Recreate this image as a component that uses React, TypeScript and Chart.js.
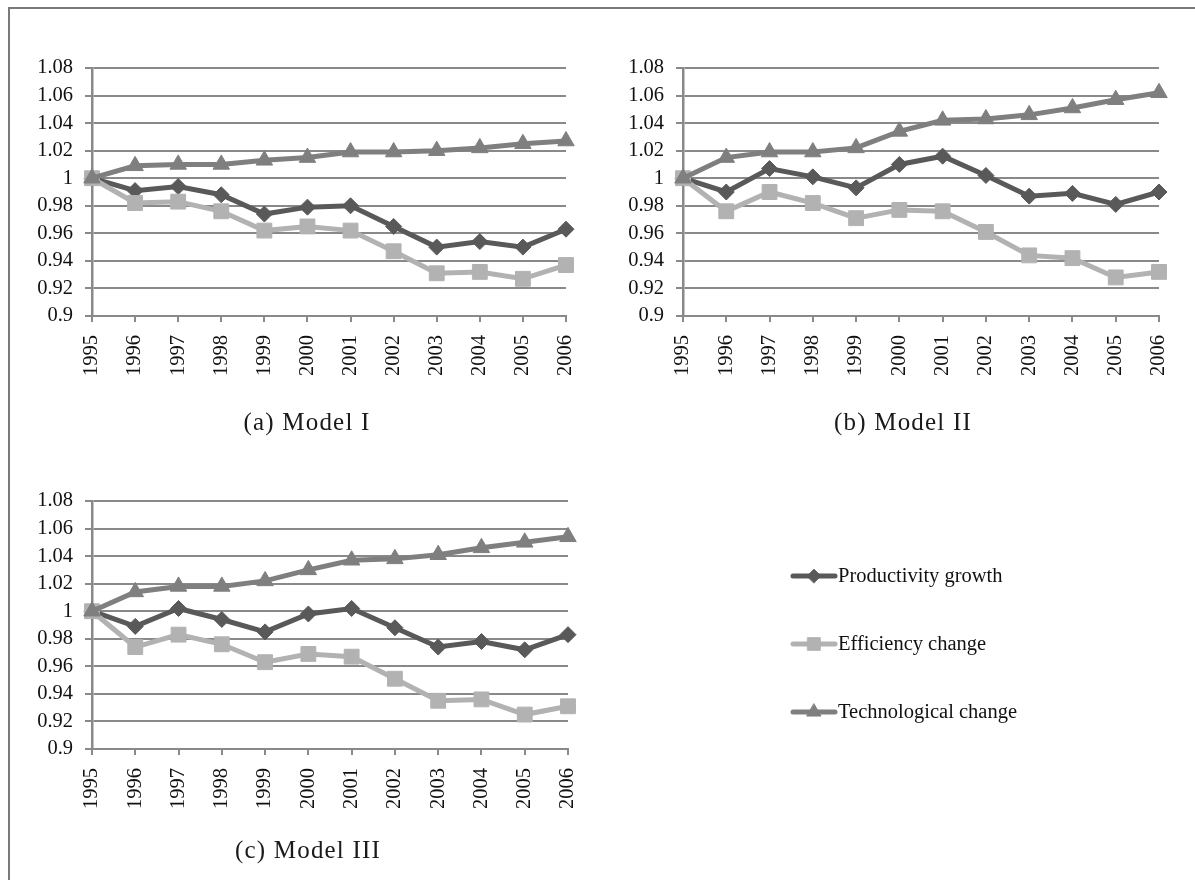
import React, { useEffect, useRef } from 'react';
import { Chart, registerables } from 'chart.js';
import { drawPoint } from 'chart.js/helpers';

Chart.register(...registerables);

// ---------- data ----------
const years = ['1995', '1996', '1997', '1998', '1999', '2000', '2001', '2002', '2003', '2004', '2005', '2006'];
const yTickValues = [0.9, 0.92, 0.94, 0.96, 0.98, 1.0, 1.02, 1.04, 1.06, 1.08];
const yTickLabels = ['0.9', '0.92', '0.94', '0.96', '0.98', '1', '1.02', '1.04', '1.06', '1.08'];
const seriesNames = ['Productivity growth', 'Efficiency change', 'Technological change'];
const captions = ['(a) Model I', '(b) Model II', '(c) Model III'];

const productivityI = [1.0, 0.991, 0.994, 0.988, 0.974, 0.979, 0.98, 0.965, 0.95, 0.954, 0.95, 0.963];
const efficiencyI = [1.0, 0.982, 0.983, 0.976, 0.962, 0.965, 0.962, 0.947, 0.931, 0.932, 0.927, 0.937];
const technologyI = [1.0, 1.009, 1.01, 1.01, 1.013, 1.015, 1.019, 1.019, 1.02, 1.022, 1.025, 1.027];

const productivityII = [1.0, 0.99, 1.007, 1.001, 0.993, 1.01, 1.016, 1.002, 0.987, 0.989, 0.981, 0.99];
const efficiencyII = [1.0, 0.976, 0.99, 0.982, 0.971, 0.977, 0.976, 0.961, 0.944, 0.942, 0.928, 0.932];
const technologyII = [1.0, 1.015, 1.019, 1.019, 1.022, 1.034, 1.042, 1.043, 1.046, 1.051, 1.057, 1.062];

const productivityIII = [1.0, 0.989, 1.002, 0.994, 0.985, 0.998, 1.002, 0.988, 0.974, 0.978, 0.972, 0.983];
const efficiencyIII = [1.0, 0.974, 0.983, 0.976, 0.963, 0.969, 0.967, 0.951, 0.935, 0.936, 0.925, 0.931];
const technologyIII = [1.0, 1.014, 1.018, 1.018, 1.022, 1.03, 1.037, 1.038, 1.041, 1.046, 1.05, 1.054];

// ---------- styles ----------
const PROD_COLOR = '#595959';
const EFF_COLOR = '#b2b2b2';
const TECH_COLOR = '#7f7f7f';
const GRID_COLOR = '#898989';
const TEXT_COLOR = '#111111';
const SERIF = "'Liberation Serif', 'Times New Roman', serif";
const TICK_FONT_SIZE = 20.5;
const LINE_WIDTH = 5;

const seriesStyles = [
  { color: PROD_COLOR, pointStyle: 'rectRot', radius: 8, order: 2 },
  { color: EFF_COLOR, pointStyle: 'rect', radius: 10.5, order: 1 },
  { color: TECH_COLOR, pointStyle: 'triangle', radius: 9.5, order: 0 },
];

const legendPlugin = {
  id: 'sideLegend',
  afterDraw(chart: any) {
    const opts = chart.options.plugins.sideLegend;
    if (!opts || !opts.display) return;
    const ctx = chart.ctx;
    ctx.save();
    seriesNames.forEach((name, i) => {
      const st = seriesStyles[i];
      const y = opts.y0 + i * opts.gap;
      ctx.strokeStyle = st.color;
      ctx.fillStyle = st.color;
      ctx.lineWidth = LINE_WIDTH;
      ctx.lineCap = 'round';
      ctx.beginPath();
      ctx.moveTo(opts.x0, y);
      ctx.lineTo(opts.x0 + opts.lineLen, y);
      ctx.stroke();
      ctx.lineWidth = 1;
      drawPoint(ctx, { pointStyle: st.pointStyle as any, radius: st.radius * 0.85, borderWidth: 1, rotation: 0 }, opts.x0 + opts.lineLen / 2, y);
      ctx.fillStyle = TEXT_COLOR;
      ctx.font = `${TICK_FONT_SIZE}px ${SERIF}`;
      ctx.textAlign = 'left';
      ctx.textBaseline = 'middle';
      ctx.fillText(name, opts.x0 + opts.lineLen + 3, y + 1);
    });
    ctx.restore();
  },
};

type Props = {
  left: number;
  top: number;
  width: number;
  height: number;
  yAxisWidth: number;
  xAxisHeight: number;
  padTop: number;
  padRight: number;
  series: number[][];
  legend?: { x0: number; y0: number; gap: number; lineLen: number };
};

function ModelChart(p: Props) {
  const ref = useRef<HTMLCanvasElement>(null);
  useEffect(() => {
    const font = { family: SERIF, size: TICK_FONT_SIZE };
    const chart = new Chart(ref.current as HTMLCanvasElement, {
      type: 'line',
      data: {
        labels: years,
        datasets: p.series.map((d, i) => ({
          label: seriesNames[i],
          data: d,
          borderColor: seriesStyles[i].color,
          backgroundColor: seriesStyles[i].color,
          pointBackgroundColor: seriesStyles[i].color,
          pointBorderColor: seriesStyles[i].color,
          pointStyle: seriesStyles[i].pointStyle as any,
          pointRadius: seriesStyles[i].radius,
          pointBorderWidth: 1,
          borderWidth: LINE_WIDTH,
          tension: 0,
          fill: false,
          order: seriesStyles[i].order,
        })),
      },
      options: {
        responsive: false,
        animation: false,
        events: [],
        layout: { padding: { left: 0, top: p.padTop, right: p.padRight, bottom: 0 } },
        plugins: {
          legend: { display: false },
          tooltip: { enabled: false },
          sideLegend: p.legend ? { display: true, ...p.legend } : { display: false },
        } as any,
        scales: {
          x: {
            type: 'category',
            offset: false,
            ticks: { maxRotation: 90, minRotation: 90, autoSkip: false, font, color: TEXT_COLOR, padding: 13 },
            grid: { drawOnChartArea: false, drawTicks: true, tickLength: 6, color: GRID_COLOR, lineWidth: 2 },
            border: { display: true, color: GRID_COLOR, width: 2 },
            afterFit: (axis: any) => {
              axis.height = p.xAxisHeight;
              axis.paddingLeft = 0;
              axis.paddingRight = 0;
            },
          },
          y: {
            type: 'linear',
            min: 0.9,
            max: 1.08,
            afterBuildTicks: (axis: any) => {
              axis.ticks = yTickValues.map((v) => ({ value: v }));
            },
            ticks: {
              autoSkip: false,
              font,
              color: TEXT_COLOR,
              padding: 12,
              callback: (_v: any, i: number) => yTickLabels[i],
            },
            grid: { color: GRID_COLOR, lineWidth: 2, tickLength: 7, drawTicks: true },
            border: { display: true, color: GRID_COLOR, width: 2.5 },
            afterFit: (axis: any) => {
              axis.width = p.yAxisWidth;
              axis.paddingTop = 0;
              axis.paddingBottom = 0;
            },
          },
        },
      } as any,
      plugins: [legendPlugin as any],
    });
    return () => chart.destroy();
  }, []);
  return (
    <canvas
      ref={ref}
      width={p.width}
      height={p.height}
      style={{ position: 'absolute', left: p.left, top: p.top, width: p.width, height: p.height }}
    />
  );
}

function Caption({ text, cx, cy }: { text: string; cx: number; cy: number }) {
  return (
    <div
      style={{
        position: 'absolute',
        left: cx - 200,
        top: cy - 16,
        width: 400,
        height: 32,
        lineHeight: '32px',
        textAlign: 'center',
        fontFamily: SERIF,
        fontSize: 25,
        letterSpacing: '1.2px',
        color: '#1a1a1a',
        whiteSpace: 'nowrap',
      }}
    >
      {text}
    </div>
  );
}

export default function App() {
  return (
    <div style={{ position: 'absolute', left: 0, top: 0, width: 1195, height: 880, background: '#fff', overflow: 'hidden' }}>
      <div
        style={{
          position: 'absolute',
          left: 8,
          top: 7,
          width: 1200,
          height: 900,
          borderTop: `2px solid #7a7a7a`,
          borderLeft: `2px solid #7a7a7a`,
        }}
      />
      <ModelChart
        left={20}
        top={30}
        width={570}
        height={400}
        yAxisWidth={72}
        xAxisHeight={114}
        padTop={38}
        padRight={24}
        series={[productivityI, efficiencyI, technologyI]}
      />
      <ModelChart
        left={611}
        top={30}
        width={570}
        height={400}
        yAxisWidth={72}
        xAxisHeight={114}
        padTop={38}
        padRight={22}
        series={[productivityII, efficiencyII, technologyII]}
      />
      <ModelChart
        left={20}
        top={460}
        width={1150}
        height={400}
        yAxisWidth={72}
        xAxisHeight={111}
        padTop={41}
        padRight={602}
        series={[productivityIII, efficiencyIII, technologyIII]}
        legend={{ x0: 773, y0: 116, gap: 68, lineLen: 42 }}
      />
      <Caption text={captions[0]} cx={307} cy={422} />
      <Caption text={captions[1]} cx={903} cy={422} />
      <Caption text={captions[2]} cx={308} cy={850} />
    </div>
  );
}
